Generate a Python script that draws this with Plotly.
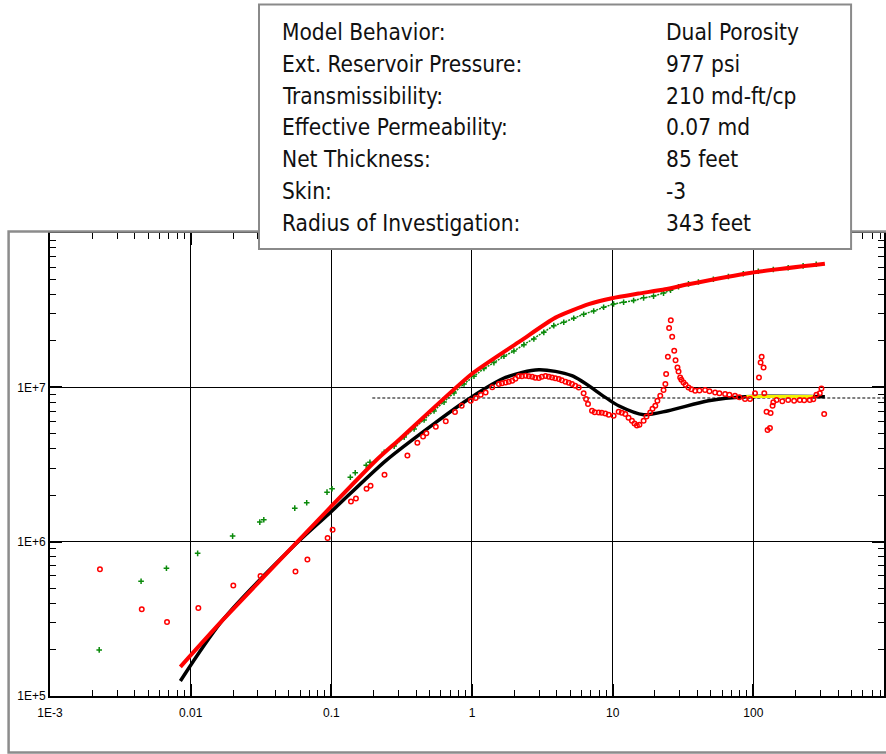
import plotly.graph_objects as go

# ---------------- data ----------------
# model pressure change (red line)
model_dp_t = [0.00845, 0.01687, 0.0984, 0.2075, 0.3034, 1.0, 2.214, 3.923, 6.76, 9.89, 15.28, 23.6, 34.6, 96.8, 322.7]
model_dp_v = [1.546e5, 3.10e5, 1.667e6, 3.354e6, 4.58e6, 1.225e7, 2.0e7, 2.83e7, 3.456e7, 3.78e7, 4.05e7, 4.32e7, 4.65e7, 5.53e7, 6.32e7]

# model derivative (black line)
model_der_t = [0.00845, 0.01687, 0.0531, 0.0984, 0.2443, 0.553, 0.953, 1.734, 2.986, 5.12, 8.87, 11.03, 16.6, 24.9, 47.9, 87.3, 322.7]
model_der_v = [1.25e5, 3.10e5, 9.23e5, 1.546e6, 3.354e6, 5.93e6, 8.44e6, 1.159e7, 1.30e7, 1.189e7, 8.61e6, 7.60e6, 6.65e6, 7.06e6, 8.19e6, 8.69e6, 8.69e6]

# radial flow stabilisation (yellow) and reference level (dashed)
radial_t = [89.2, 266.6]
radial_v = [8.73e6, 8.73e6]
level_t = [0.1955, 2000]
level_v = [8.53e6, 8.53e6]

# measured pressure change (green crosses), early sparse part
dp_early_t = [0.002238, 0.004441, 0.006727, 0.01121, 0.01987, 0.03101, 0.03311, 0.05497, 0.06683, 0.0932,
              0.1012, 0.1365, 0.1479, 0.1770, 0.1881, 0.2377]
dp_early_v = [1.99e5, 5.54e5, 6.72e5, 8.40e5, 1.087e6, 1.339e6, 1.387e6, 1.649e6, 1.787e6, 2.093e6,
              2.202e6, 2.617e6, 2.793e6, 3.127e6, 3.272e6, 3.796e6]
# measured pressure change, dense part
dp_t = [0.2797, 0.3295, 0.3879, 0.4566, 0.5375, 0.633, 0.7453, 0.8777, 1.033, 1.216,
        1.432, 1.687, 1.986, 2.339, 2.753, 3.241, 3.816, 4.493, 5.29, 6.228,
        7.33, 8.63, 10.16, 11.97, 14.09, 16.6, 19.54, 23.0, 25.8, 29.4,
        34.6, 40.7, 52.0, 66.5, 84.9, 108.5, 138.7, 177, 226, 280]
dp_v = [4.16e6, 4.76e6, 5.37e6, 6.14e6, 7.02e6, 8.02e6, 9.19e6, 1.052e7, 1.18e7, 1.323e7,
        1.446e7, 1.589e7, 1.718e7, 1.891e7, 2.059e7, 2.271e7, 2.51e7, 2.64e7, 2.805e7, 2.978e7,
        3.126e7, 3.30e7, 3.47e7, 3.56e7, 3.65e7, 3.80e7, 3.90e7, 4.08e7, 4.26e7, 4.48e7,
        4.68e7, 4.81e7, 5.02e7, 5.23e7, 5.45e7, 5.65e7, 5.80e7, 5.96e7, 6.12e7, 6.27e7]

# measured derivative (red open circles)
der_t = [0.002265, 0.00449, 0.00679, 0.01134, 0.0201, 0.03137, 0.0556, 0.0676, 0.0941, 0.1021,
         0.1379, 0.1496, 0.1780, 0.1900, 0.2388, 0.3475, 0.409, 0.449, 0.474, 0.553,
         0.651, 0.757, 0.845, 0.980, 1.062, 1.153, 1.250, 1.393, 1.553, 1.633,
         1.734, 1.828, 1.932, 2.035, 2.153, 2.263, 2.404, 2.535, 2.679, 2.818,
         2.985, 3.137, 3.333, 3.516, 3.711, 3.91, 4.14, 4.35, 4.62, 4.875,
         5.14, 5.42, 5.74, 6.22, 6.47, 6.68, 7.13, 7.45, 7.96, 8.36,
         8.87, 9.37, 10.16, 11.03, 11.6, 12.30, 12.97, 13.71, 14.3, 14.87,
         15.5, 16.6, 17.4, 18.5, 19.2, 20.1, 20.8, 21.8, 23.0, 23.7,
         24.0, 24.7, 25.2, 25.9, 26.5, 27.4, 28.0, 28.9, 29.4, 30.2,
         30.8, 31.9, 33.0, 34.6, 36.3, 38.6, 41.4, 45.4, 48.8, 53.5,
         57.4, 63.0, 67.6, 74.1, 79.6, 87.3, 94.8, 102.8, 109.7, 112.7,
         114.6, 118.3, 119.7, 124.2, 126.3, 131.3, 132.7, 137.1, 138.7, 146.3,
         160.7, 177, 195, 214, 230, 252, 267, 281, 297, 305, 319]
der_v = [6.62e5, 3.65e5, 3.02e5, 3.72e5, 5.20e5, 5.99e5, 6.40e5, 7.65e5, 1.055e6, 1.196e6,
         1.822e6, 1.905e6, 2.20e6, 2.30e6, 2.71e6, 3.61e6, 4.37e6, 4.80e6, 5.04e6, 5.56e6,
         6.02e6, 6.92e6, 7.60e6, 8.19e6, 8.53e6, 8.96e6, 9.27e6, 1.0e7, 1.05e7, 1.063e7,
         1.076e7, 1.087e7, 1.104e7, 1.137e7, 1.183e7, 1.18e7, 1.189e7, 1.18e7, 1.171e7, 1.153e7,
         1.148e7, 1.171e7, 1.183e7, 1.171e7, 1.159e7, 1.145e7, 1.132e7, 1.111e7, 1.087e7, 1.071e7,
         1.050e7, 1.024e7, 9.98e6, 9.14e6, 8.40e6, 7.80e6, 7.06e6, 6.90e6, 6.88e6, 6.85e6,
         6.78e6, 6.65e6, 6.55e6, 6.95e6, 6.85e6, 6.72e6, 6.36e6, 6.08e6, 5.82e6, 5.65e6,
         5.73e6, 6.08e6, 6.46e6, 6.88e6, 7.27e6, 7.60e6, 8.19e6, 8.83e6, 9.60e6, 1.05e7,
         1.219e7, 1.577e7, 2.42e7, 2.72e7, 2.13e7, 1.725e7, 1.50e7, 1.345e7, 1.267e7, 1.159e7,
         1.12e7, 1.076e7, 1.04e7, 9.98e6, 9.72e6, 9.51e6, 9.55e6, 9.60e6, 9.44e6, 9.27e6,
         9.16e6, 9.05e6, 8.96e6, 8.83e6, 8.63e6, 8.40e6, 8.40e6, 9.14e6, 1.159e7, 1.449e7,
         1.577e7, 1.345e7, 9.14e6, 6.95e6, 5.30e6, 5.46e6, 6.82e6, 7.60e6, 7.99e6, 8.28e6,
         8.13e6, 8.28e6, 8.19e6, 8.28e6, 8.25e6, 8.28e6, 8.38e6, 8.96e6, 9.14e6, 9.84e6, 6.72e6]

x_tickvals = [0.001, 0.01, 0.1, 1, 10, 100]
x_ticktext = ["1E-3", "0.01", "0.1", "1", "10", "100"]
y_tickvals = [1e5, 1e6, 1e7]
y_ticktext = ["1E+5", "1E+6", "1E+7"]

info_labels = ["Model Behavior:", "Ext. Reservoir Pressure:", "Transmissibility:",
               "Effective Permeability:", "Net Thickness:", "Skin:", "Radius of Investigation:"]
info_values = ["Dual Porosity", "977 psi", "210 md-ft/cp", "0.07 md", "85 feet", "-3", "343 feet"]

# ---------------- figure ----------------
W, H = 886, 754
ML, MR, MT, MB = 50, 0, 233, 58
PW, PH = W - ML - MR, H - MT - MB

def px_x(p):
    return (p - ML) / PW

def px_y(p):
    return (H - MB - p) / PH

fig = go.Figure()

fig.add_trace(go.Scatter(x=level_t, y=level_v, mode="lines",
                         line=dict(color="black", width=1.2, dash="3px,2px"), hoverinfo="skip"))
fig.add_trace(go.Scatter(x=dp_early_t, y=dp_early_v, mode="markers",
                         marker=dict(symbol="cross-thin", size=4, line=dict(color="#0a8a0a", width=1.5))))
fig.add_trace(go.Scatter(x=dp_t, y=dp_v, mode="lines+markers",
                         line=dict(color="#0a8a0a", width=1.5, dash="2px,1px"),
                         marker=dict(symbol="cross-thin", size=4, line=dict(color="#0a8a0a", width=1.5))))
fig.add_trace(go.Scatter(x=model_der_t, y=model_der_v, mode="lines",
                         line=dict(color="black", width=3.5, shape="spline", smoothing=0.8)))
fig.add_trace(go.Scatter(x=radial_t, y=radial_v, mode="lines",
                         line=dict(color="#f2f200", width=3)))
fig.add_trace(go.Scatter(x=model_dp_t, y=model_dp_v, mode="lines",
                         line=dict(color="#ff0000", width=4, shape="spline", smoothing=0.6)))
fig.add_trace(go.Scatter(x=der_t, y=der_v, mode="markers",
                         marker=dict(symbol="circle-open", size=4.5, color="#ff0000",
                                     line=dict(color="#ff0000", width=1.5))))

tickfont = dict(family="Liberation Sans Narrow, Arial Narrow, Liberation Sans, Arial", size=12, color="black")
axis_common = dict(
    type="log", showline=True, linecolor="black", linewidth=2, mirror="allticks",
    ticks="inside", ticklen=12, tickwidth=2, tickcolor="black",
    showgrid=True, gridcolor="black", gridwidth=1, zeroline=False,
    minor=dict(ticks="inside", ticklen=6, tickwidth=1, tickcolor="black", showgrid=False, dtick="D1"),
    tickfont=tickfont, fixedrange=True,
)
fig.update_xaxes(range=[-3, -3 + PW / 141.0], tickvals=x_tickvals, ticktext=x_ticktext,
                 ticklabelstandoff=5, **axis_common)
fig.update_yaxes(range=[5, 8], tickvals=y_tickvals, ticktext=y_ticktext, **axis_common)

shapes = [
    # outer grey frame
    dict(type="rect", xref="paper", yref="paper", x0=px_x(8.5), x1=px_x(920), y0=px_y(752.5), y1=px_y(231.5),
         line=dict(color="#8c8c8c", width=2.5), fillcolor="rgba(0,0,0,0)", layer="above"),
    # info box
    dict(type="rect", xref="paper", yref="paper", x0=px_x(259.5), x1=px_x(853), y0=px_y(249), y1=px_y(4.5),
         line=dict(color="#8a8a8a", width=2), fillcolor="white", layer="above"),
]

annotations = []
row0, dy = 32.0, 31.83
info_font = dict(family="DejaVu Sans Condensed, Liberation Sans Narrow, Arial Narrow, sans-serif", size=22.5, color="#111111")
for i, (lab, val) in enumerate(zip(info_labels, info_values)):
    yc = row0 + i * dy
    annotations.append(dict(xref="paper", yref="paper", x=px_x(281), y=px_y(yc), text=lab, showarrow=False,
                            xanchor="left", yanchor="middle", font=info_font))
    annotations.append(dict(xref="paper", yref="paper", x=px_x(665), y=px_y(yc), text=val, showarrow=False,
                            xanchor="left", yanchor="middle", font=info_font))

fig.update_layout(
    width=W, height=H, margin=dict(l=ML, r=MR, t=MT, b=MB, pad=0),
    paper_bgcolor="white", plot_bgcolor="white", showlegend=False,
    shapes=shapes, annotations=annotations,
)

fig.write_html("out.html", include_plotlyjs=True, config={"displayModeBar": False})
